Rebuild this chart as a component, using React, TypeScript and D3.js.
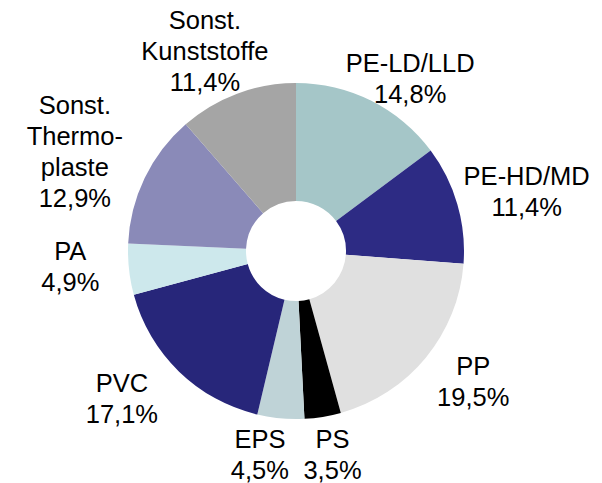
import React from "react";
import * as d3 from "d3";

const categories = [
  "PE-LD/LLD",
  "PE-HD/MD",
  "PP",
  "PS",
  "EPS",
  "PVC",
  "PA",
  "Sonst. Thermoplaste",
  "Sonst. Kunststoffe",
];
const shares = [14.8, 11.4, 19.5, 3.5, 4.5, 17.1, 4.9, 12.9, 11.4];
const valueLabels = ["14,8%", "11,4%", "19,5%", "3,5%", "4,5%", "17,1%", "4,9%", "12,9%", "11,4%"];
const labelLines = [
  ["PE-LD/LLD"],
  ["PE-HD/MD"],
  ["PP"],
  ["PS"],
  ["EPS"],
  ["PVC"],
  ["PA"],
  ["Sonst.", "Thermo-", "plaste"],
  ["Sonst.", "Kunststoffe"],
];

const colors = ["#a5c6c8", "#2d2b84", "#e0e0e0", "#000000", "#bfd3d7", "#27267a", "#cde8ec", "#8a8ab8", "#a5a5a5"];
// label nudges relative to the label-arc centroid
const nudges: [number, number][] = [
  [20, 15],
  [29, -1],
  [15, -3],
  [3, -4],
  [-17, -6],
  [-28, -3],
  [-17, -7.5],
  [-32, -8.5],
  [-17.5, -3],
];

const W = 602;
const H = 483;
const cx = 296;
const cy = 251;
const outerR = 168;
const innerR = 50;
const labelR = 210;
const fontSize = 25.5;
const lineH = 31;

export default function App() {
  const pie = d3
    .pie<number>()
    .sort(null)
    .value((d) => d)
    .startAngle(0)
    .endAngle(2 * Math.PI);
  const arcs = pie(shares);
  const arc = d3.arc<d3.PieArcDatum<number>>().innerRadius(innerR).outerRadius(outerR);
  const labelArc = d3.arc<d3.PieArcDatum<number>>().innerRadius(labelR).outerRadius(labelR);

  return (
    <svg
      width={W}
      height={H}
      style={{ position: "absolute", left: 0, top: 0, background: "#fff" }}
      fontFamily="'Liberation Sans', Arial, sans-serif"
    >
      <g transform={`translate(${cx},${cy})`}>
        {arcs.map((a, i) => (
          <path key={categories[i]} d={arc(a) || ""} fill={colors[i]} />
        ))}
        {arcs.map((a, i) => {
          const [lx, ly] = labelArc.centroid(a);
          const x = lx + nudges[i][0];
          const y = ly + nudges[i][1];
          const lines = [...labelLines[i], valueLabels[i]];
          const first = y - ((lines.length - 1) * lineH) / 2 + 9;
          return (
            <text key={"l" + i} x={x} y={first} textAnchor="middle" fontSize={fontSize} fill="#000">
              {lines.map((t, k) => (
                <tspan key={k} x={x} dy={k === 0 ? 0 : lineH}>
                  {t}
                </tspan>
              ))}
            </text>
          );
        })}
      </g>
    </svg>
  );
}
